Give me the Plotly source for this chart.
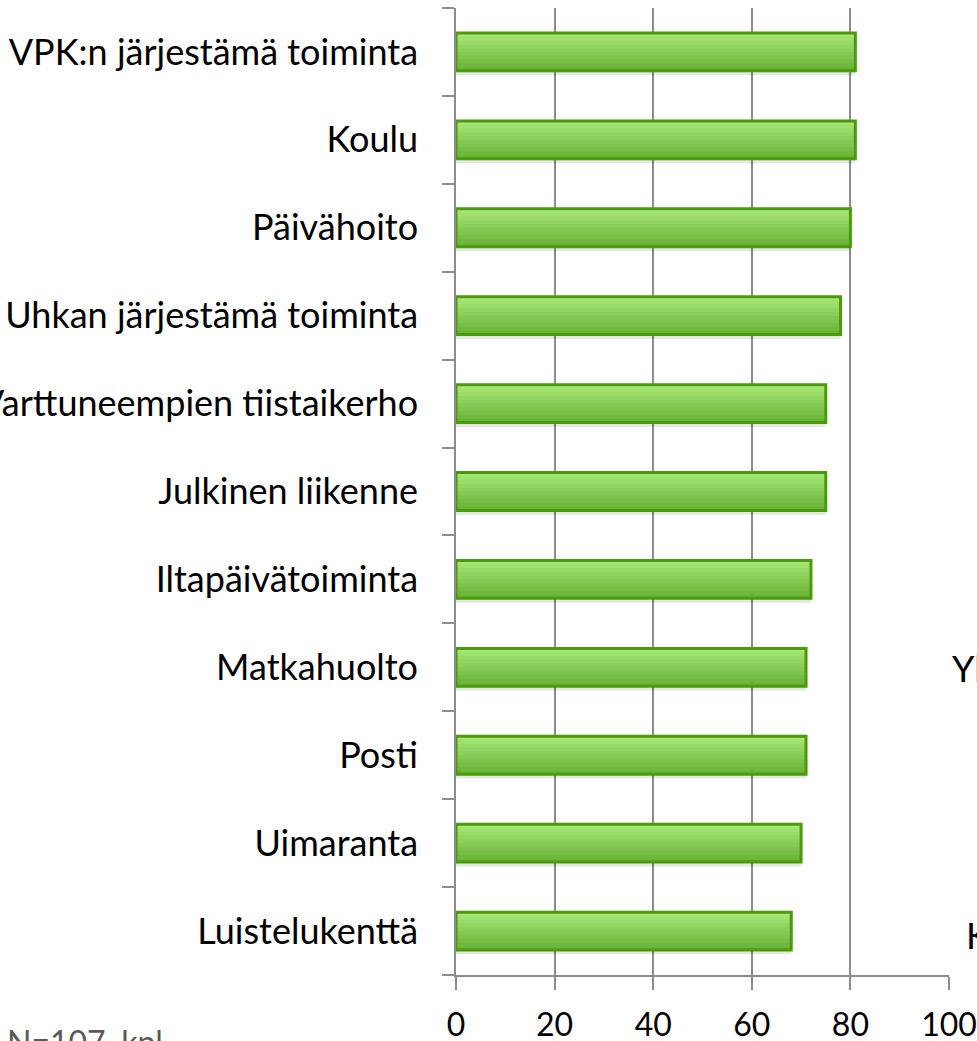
import plotly.graph_objects as go

categories = [
    "VPK:n järjestämä toiminta",
    "Koulu",
    "Päivähoito",
    "Uhkan järjestämä toiminta",
    "Varttuneempien tiistaikerho",
    "Julkinen liikenne",
    "Iltapäivätoiminta",
    "Matkahuolto",
    "Posti",
    "Uimaranta",
    "Luistelukenttä",
]
values = [81, 81, 80, 78, 75, 75, 72, 71, 71, 70, 68]
x_ticks = [0, 20, 40, 60, 80, 100]
note_text = "N=107, kpl"

# plot area in page px: x 456..949, y 8..975
L, R, T, B = 456, 28, 8, 66
PW = 977 - L - R
PH = 1041 - T - B

BAR_W = 0.43
top_rgb = (166, 230, 118)
bot_rgb = (106, 178, 56)
N_STRIPS = 10

fig = go.Figure()

# soft shadow below each bar
fig.add_trace(go.Bar(
    y=categories, x=values, orientation="h",
    width=BAR_W, offset=-BAR_W / 2 - 0.05,
    marker=dict(color="rgba(0,0,0,0.10)", line=dict(width=0)),
    hoverinfo="skip",
))
# vertical gradient fill built from thin strips (bottom strip first, overlapping upward)
s = BAR_W / N_STRIPS
for k in range(N_STRIPS - 1, -1, -1):
    t = k / (N_STRIPS - 1)
    c = tuple(round(top_rgb[i] + (bot_rgb[i] - top_rgb[i]) * t) for i in range(3))
    off = BAR_W / 2 - (k + 1) * s
    fig.add_trace(go.Bar(
        y=categories, x=values, orientation="h",
        width=BAR_W / 2 - off, offset=off,
        marker=dict(color="rgb(%d,%d,%d)" % c, line=dict(width=0)),
        hoverinfo="skip",
    ))
# outline
fig.add_trace(go.Bar(
    y=categories, x=values, orientation="h",
    width=BAR_W, offset=-BAR_W / 2,
    marker=dict(color="rgba(0,0,0,0)", line=dict(color="#4b9a0a", width=3)),
    hoverinfo="x+y",
))

fig.update_layout(
    width=977,
    height=1041,
    margin=dict(l=L, r=R, t=T, b=B, autoexpand=False),
    plot_bgcolor="white",
    paper_bgcolor="white",
    showlegend=False,
    barmode="overlay",
    font=dict(family="Lato, Carlito, sans-serif", color="black"),
)
fig.update_xaxes(
    range=[0, 100],
    tickvals=x_ticks,
    showgrid=True,
    gridcolor="#8c8c8c",
    gridwidth=1.5,
    showline=True,
    linecolor="#8c8c8c",
    linewidth=1.5,
    ticks="outside",
    ticklen=13,
    tickcolor="#8c8c8c",
    tickwidth=1.5,
    tickfont=dict(size=32, color="black"),
    ticklabelstandoff=8,
    zeroline=False,
    automargin=False,
)
fig.update_yaxes(
    categoryorder="array",
    categoryarray=categories[::-1],
    showline=True,
    linecolor="#8c8c8c",
    linewidth=1.5,
    ticks="outside",
    tickson="boundaries",
    ticklen=12,
    tickcolor="#8c8c8c",
    tickwidth=1.5,
    tickfont=dict(size=36, color="black"),
    ticklabelstandoff=29,
    showgrid=False,
    automargin=False,
)

fig.add_annotation(
    text=note_text, xref="paper", yref="paper", x=-(L - 5) / PW, y=-45 / PH,
    xanchor="left", yanchor="top", showarrow=False,
    font=dict(size=32, color="#595959"),
)
fig.add_annotation(
    text="Yl", xref="paper", yref="paper", x=1.002, y=(975 - 668) / PH,
    xanchor="left", yanchor="middle", showarrow=False,
    font=dict(size=36, color="black"),
)
fig.add_annotation(
    text="K", xref="paper", yref="paper", x=1.03, y=(975 - 935) / PH,
    xanchor="left", yanchor="middle", showarrow=False,
    font=dict(size=36, color="black"),
)

fig.write_html(
    "out.html",
    config={"displayModeBar": False},
    post_script="document.body.style.margin='0';document.body.style.overflow='hidden';"
                "document.documentElement.style.overflow='hidden';",
)
